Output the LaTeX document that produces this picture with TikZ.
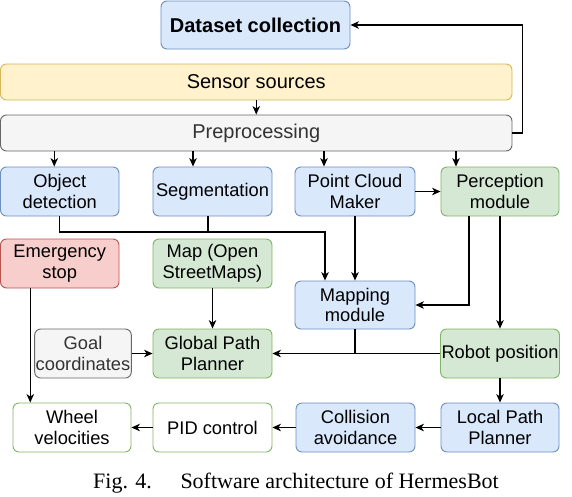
\documentclass[tikz,border=0pt]{standalone}
\usepackage{fontspec}
\setmainfont{Liberation Sans}
\newfontfamily\capfont{Liberation Serif}
\usetikzlibrary{arrows.meta,calc}
\definecolor{bfill}{HTML}{DAE8FC}\definecolor{bline}{HTML}{6C8EBF}
\definecolor{yfill}{HTML}{FFF2CC}\definecolor{yline}{HTML}{D6B656}
\definecolor{gfill}{HTML}{F5F5F5}\definecolor{gline}{HTML}{666666}
\definecolor{gtext}{HTML}{333333}
\definecolor{grfill}{HTML}{D5E8D4}\definecolor{grline}{HTML}{82B366}
\definecolor{rfill}{HTML}{F8CECC}\definecolor{rline}{HTML}{B85450}
\tikzset{
  box/.style={draw, rounded corners=6pt, line width=0.9pt, align=center, inner sep=1pt,
    font=\fontsize{18.3}{20.5}\selectfont},
  bluebox/.style={box, fill=bfill, draw=bline},
  greenbox/.style={box, fill=grfill, draw=grline},
  redbox/.style={box, fill=rfill, draw=rline},
  greybox/.style={box, fill=gfill, draw=gline, text=gtext},
  whitebox/.style={box, fill=white, draw=grline},
  arr/.style={-{Stealth[length=8.5pt,width=7.5pt,inset=2.5pt]}, line width=1.2pt},
  ln/.style={line width=1.2pt},
}
\newcommand{\bx}[6]{\node[#1, minimum width={#4pt-#2pt}, minimum height={#5pt-#3pt}] (#6) at ({(#2+#4)/2},{(#3+#5)/2})}
\begin{document}
\begin{tikzpicture}[x=1pt,y=-1pt]
\useasboundingbox (0,0) rectangle (572,496);
\bx{bluebox}{161}{1}{350}{49}{dc}{\fontsize{20}{22}\selectfont\bfseries Dataset collection};
\bx{box,fill=yfill,draw=yline}{0.5}{64}{512}{100}{ss}{\fontsize{20}{22}\selectfont Sensor sources};
\bx{greybox}{0.5}{115}{512}{151}{pp}{\fontsize{20}{22}\selectfont Preprocessing};
\bx{bluebox}{0.5}{167}{119}{216}{od}{Object\\detection};
\bx{bluebox}{153}{167}{272}{216}{seg}{Segmentation};
\bx{bluebox}{295}{167}{415}{216}{pcm}{Point Cloud\\Maker};
\bx{greenbox}{441}{167}{559}{216}{per}{Perception\\module};
\bx{redbox}{0.5}{239}{119}{288}{es}{Emergency\\stop};
\bx{greenbox}{153}{239}{272}{288}{map}{Map (Open\\StreetMaps)};
\bx{bluebox}{295}{281}{415}{329}{mm}{Mapping\\module};
\bx{greybox}{35}{329}{131}{378}{goal}{Goal\\coordinates};
\bx{greenbox}{153}{329}{272}{378}{gpp}{Global Path\\Planner};
\bx{greenbox}{441}{329}{559}{378}{rp}{Robot position};
\bx{whitebox}{13}{403}{131}{452}{wv}{Wheel\\velocities};
\bx{whitebox}{153}{403}{272}{452}{pid}{PID control};
\bx{bluebox}{296}{403}{415}{452}{ca}{Collision\\avoidance};
\bx{bluebox}{441}{403}{559}{452}{lpp}{Local Path\\Planner};
\node[anchor=base, font=\capfont\fontsize{22}{24}\selectfont] (cap) at (296,488) {Fig. 4.\hspace{1.3em}Software architecture of HermesBot};
% coordinates
\coordinate (c1) at ([xshift=-5.5pt]od.north);
\coordinate (c2) at ([xshift=-19.5pt]seg.north);
\coordinate (c3) at ([xshift=-31pt]pcm.north);
\coordinate (c4) at ([xshift=-44pt]per.north);
\coordinate (segout) at ([xshift=-4.5pt]seg.south);
\coordinate (mmin) at ([xshift=-30pt]mm.north);
\coordinate (perout) at ([xshift=-31pt]per.south);
\coordinate (esout) at ([xshift=-29.5pt]es.south);
\coordinate (jy) at (0,232);
% connectors
\draw[arr] (ss) -- (pp);
\draw[arr] (pp.east) -- ++(10,0) |- (dc.east);
\draw[arr] (c1 |- pp.south) -- (c1);
\draw[arr] (c2 |- pp.south) -- (c2);
\draw[arr] (c3 |- pp.south) -- (c3);
\draw[arr] (c4 |- pp.south) -- (c4);
\draw[arr] (od.south) |- (mmin |- jy) -- (mmin);
\draw[ln] (segout) -- (segout |- jy);
\draw[arr] (pcm) -- (mm);
\draw[arr] (pcm) -- (per);
\draw[arr] (perout) |- (mm.east);
\draw[arr] (per) -- (rp);
\draw[arr] (rp) -- (gpp);
\draw[ln] (mm.south) -- (mm.south |- gpp.east);
\draw[arr] (esout) -- (esout |- wv.north);
\draw[arr] (map) -- (gpp);
\draw[arr] (goal) -- (gpp);
\draw[arr] (rp) -- (lpp);
\draw[arr] (lpp) -- (ca);
\draw[arr] (ca) -- (pid);
\draw[arr] (pid) -- (wv);
\end{tikzpicture}
\end{document}
